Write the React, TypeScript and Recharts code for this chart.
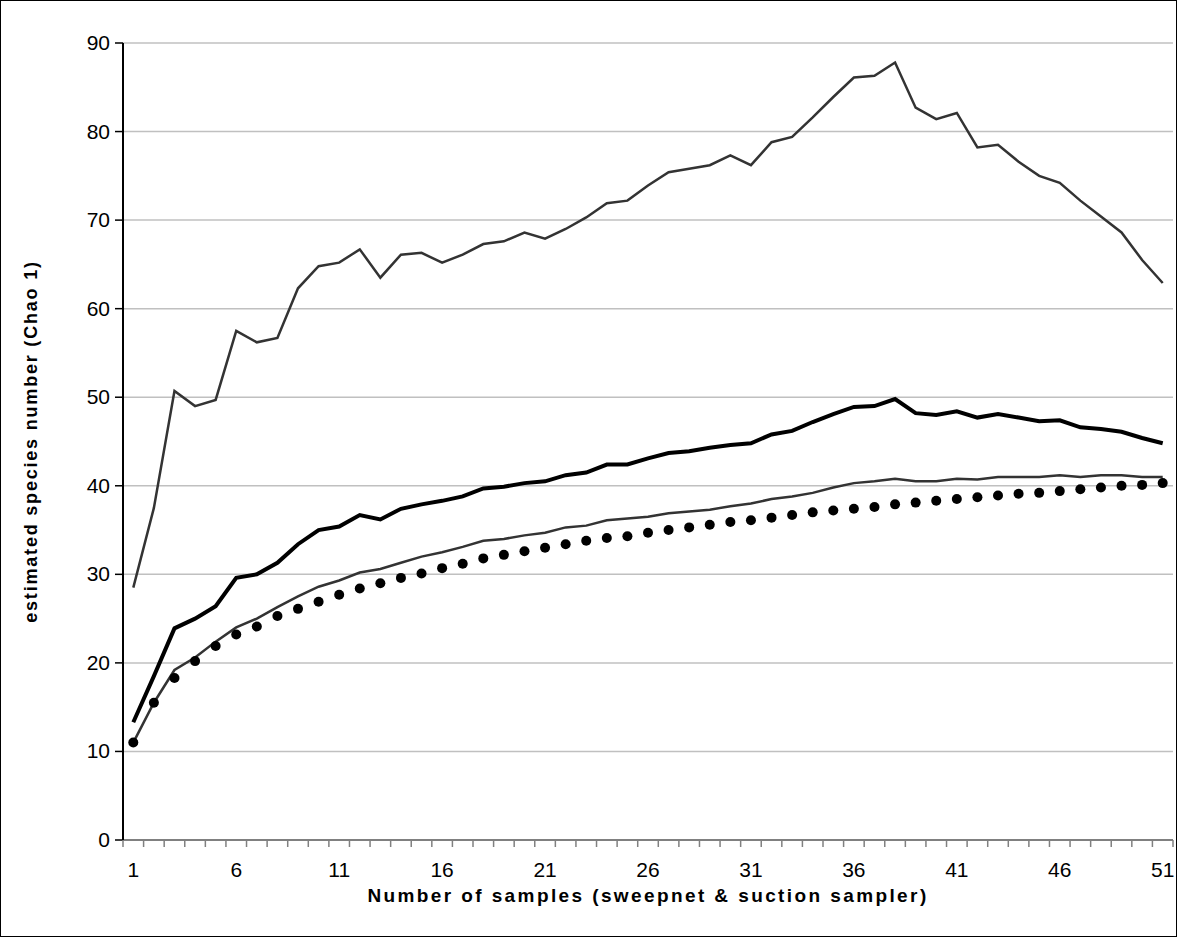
import React from "react";
import { LineChart, Line, XAxis, YAxis, CartesianGrid } from "recharts";

const samples = Array.from({ length: 51 }, (_, i) => i + 1);
const upper = [28.5,37.5,50.7,49,49.7,57.5,56.2,56.7,62.3,64.8,65.2,66.7,63.5,66.1,66.3,65.2,66.1,67.3,67.6,68.6,67.9,69.0,70.3,71.9,72.2,73.9,75.4,75.8,76.2,77.3,76.2,78.8,79.4,81.6,83.9,86.1,86.3,87.8,82.7,81.4,82.1,78.2,78.5,76.6,75.0,74.2,72.2,70.4,68.6,65.5,62.9];
const chao = [13.3,18.5,23.9,25,26.4,29.6,30,31.3,33.4,35,35.4,36.7,36.2,37.4,37.9,38.3,38.8,39.7,39.9,40.3,40.5,41.2,41.5,42.4,42.4,43.1,43.7,43.9,44.3,44.6,44.8,45.8,46.2,47.2,48.1,48.9,49.0,49.8,48.2,48.0,48.4,47.7,48.1,47.7,47.3,47.4,46.6,46.4,46.1,45.4,44.8];
const lower = [11,15.5,19.2,20.6,22.4,24,25,26.3,27.5,28.6,29.3,30.2,30.6,31.3,32.0,32.5,33.1,33.8,34.0,34.4,34.7,35.3,35.5,36.1,36.3,36.5,36.9,37.1,37.3,37.7,38.0,38.5,38.8,39.2,39.8,40.3,40.5,40.8,40.5,40.5,40.8,40.7,41.0,41.0,41.0,41.2,41.0,41.2,41.2,41.0,41.0];
const observed = [11,15.5,18.3,20.2,21.9,23.2,24.1,25.3,26.1,26.9,27.7,28.4,29.0,29.6,30.1,30.7,31.2,31.8,32.2,32.6,33.0,33.4,33.8,34.1,34.3,34.7,35.0,35.3,35.6,35.9,36.1,36.4,36.7,37.0,37.2,37.4,37.6,37.9,38.1,38.3,38.5,38.7,38.9,39.1,39.2,39.4,39.6,39.8,40.0,40.1,40.3];
const xLabels = [1, 6, 11, 16, 21, 26, 31, 36, 41, 46, 51];
const yTicks = [0, 10, 20, 30, 40, 50, 60, 70, 80, 90];
const boundaries = Array.from({ length: 52 }, (_, i) => i + 0.5);

const data = samples.map((s, i) => ({ s, upper: upper[i], chao: chao[i], lower: lower[i], observed: observed[i] }));

const PLOT_W = 1050;
const STEP = PLOT_W / 51;
const FONT = "Arial, 'Liberation Sans', sans-serif";

const XTick = (props: any) => {
  const { x, y, payload } = props;
  const v = payload.value + 0.5;
  return (
    <g>
      <line x1={x} x2={x} y1={y - 8} y2={y - 1} stroke="#808080" strokeWidth={1.5} />
      {xLabels.includes(v) && (
        <text x={x + STEP / 2} y={y + 29} textAnchor="middle" fontSize={21} fill="#000" fontFamily={FONT}>{v}</text>
      )}
    </g>
  );
};

const YTick = (props: any) => {
  const { x, y, payload } = props;
  return (
    <text x={x - 3} y={y + 7} textAnchor="end" fontSize={21} fill="#000" fontFamily={FONT}>{payload.value}</text>
  );
};

export default function App() {
  return (
    <div style={{ position: "absolute", left: 0, top: 0, width: 1175, height: 935, border: "1px solid #000", background: "#fff" }}>
      <LineChart width={1175} height={935} data={data} margin={{ top: 42, right: 3, bottom: 66, left: 62 }}>
        <CartesianGrid vertical={false} stroke="#c0c0c0" strokeWidth={1.5} />
        <XAxis dataKey="s" type="number" domain={[0.5, 51.5]} ticks={boundaries} interval={0} height={30}
          axisLine={{ stroke: "#808080", strokeWidth: 2 }} tickLine={false} tick={<XTick />}
          label={{ value: "Number of samples (sweepnet & suction sampler)", position: "insideBottom", offset: -32, style: { fontWeight: "bold", fontSize: 19, letterSpacing: 2.4, fill: "#000", fontFamily: FONT } }} />
        <YAxis domain={[0, 90]} ticks={yTicks} interval={0} width={60}
          axisLine={{ stroke: "#000", strokeWidth: 2 }} tickLine={{ stroke: "#000", strokeWidth: 1.5 }} tickSize={8}
          tick={<YTick />}
          label={{ value: "estimated species number (Chao 1)", angle: -90, position: "insideLeft", offset: -32, style: { textAnchor: "middle", fontWeight: "bold", fontSize: 18, letterSpacing: 1.8, fill: "#000", fontFamily: FONT } }} />
        <Line dataKey="upper" stroke="#333" strokeWidth={2.5} dot={false} isAnimationActive={false} />
        <Line dataKey="chao" stroke="#000" strokeWidth={4} dot={false} isAnimationActive={false} />
        <Line dataKey="lower" stroke="#333" strokeWidth={2.5} dot={false} isAnimationActive={false} />
        <Line dataKey="observed" stroke="none" strokeWidth={0} dot={{ r: 5, fill: "#000", stroke: "none" }} isAnimationActive={false} />
      </LineChart>
    </div>
  );
}
